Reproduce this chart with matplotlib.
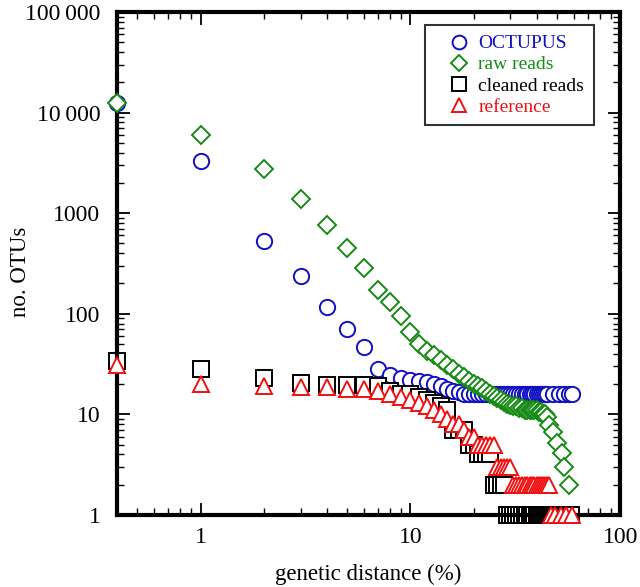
import numpy as np
import matplotlib
matplotlib.use("Agg")
import matplotlib.pyplot as plt
from matplotlib.ticker import LogLocator, FuncFormatter, NullFormatter

plt.rcParams['font.family'] = ['Liberation Serif', 'DejaVu Serif']
plt.rcParams['mathtext.fontset'] = 'stix'

# genetic distance (%) -- the 0 % point is drawn at the left edge (0.4)
x_octupus = [0.4] + list(range(1, 46)) + [48, 51, 54, 57, 59]
y_octupus = [12500, 3300, 530, 235, 117, 71, 47, 28, 24.5, 23, 22, 21.5, 21, 20,
             19, 18, 17, 16.5] + [16] * 33

x_raw = [0.4] + list(range(1, 47)) + [48, 50, 53, 54, 57]
y_raw = [12500, 5980, 2750, 1390, 765, 450, 285, 173, 131, 95, 66, 50, 43, 39, 35,
         31, 28, 25, 23.5, 21.5, 20, 19, 18.3, 17, 16, 15.2, 14.5, 13.9, 13.3, 12.7,
         12.4, 12, 12, 11.5, 11.5, 11, 11, 11, 11, 11, 11, 10.5, 10.5, 10, 10, 9.4,
         7.8, 6.7, 5.2, 4.1, 3.0, 2.0]

x_clean = [0.4] + list(range(1, 59))
y_clean = [34, 28, 23, 20.5, 19.5, 19.5, 19.5, 19, 17, 16, 16, 15, 14, 13, 12, 11,
           7, 7, 7, 5, 5, 4, 4, 4, 4, 2, 2, 2, 2] + [1] * 30

x_ref = [0.4] + list(range(1, 47)) + [47, 49, 52, 55, 59]
y_ref = [31, 20, 19, 18.5, 18.5, 18, 18, 17, 16, 15, 14, 13, 12, 11, 10, 9, 8, 8, 7,
         6, 6, 5, 5, 5, 5, 5, 3, 3, 3, 3, 3] + [2] * 16 + [1] * 5

series = [
    ("OCTUPUS", x_octupus, y_octupus, 'o', '#1010c0', 1),
    ("raw reads", x_raw, y_raw, 'D', '#158a15', 4),
    ("cleaned reads", x_clean, y_clean, 's', 'black', 2),
    ("reference", x_ref, y_ref, '^', '#f01010', 3),
]

fig = plt.figure(figsize=(6.4, 5.87), dpi=100)
ax = fig.add_axes([0.183, 0.1227, 0.786, 0.857])

for name, xs, ys, mk, col, z in series:
    ms = 9 if mk == 'D' else 11
    ax.plot(xs, ys, linestyle='none', marker=mk, markersize=ms,
            markerfacecolor='white', markeredgecolor=col, markeredgewidth=1.4,
            label=name, zorder=z, clip_on=False)

ax.set_xscale('log')
ax.set_yscale('log')
ax.set_xlim(0.4, 100)
ax.set_ylim(1, 100000)

def yfmt(v, pos):
    s = f"{int(round(v))}"
    if v >= 10000:
        s = f"{int(round(v)):,}".replace(',', '\u2009')
    return s

ax.yaxis.set_major_locator(LogLocator(base=10, numticks=10))
ax.yaxis.set_major_formatter(FuncFormatter(yfmt))
ax.yaxis.set_minor_locator(LogLocator(base=10, subs=np.arange(2, 10), numticks=20))
ax.yaxis.set_minor_formatter(NullFormatter())
ax.xaxis.set_major_formatter(FuncFormatter(lambda v, p: f"{int(round(v))}"))
ax.xaxis.set_minor_locator(LogLocator(base=10, subs=np.arange(2, 10), numticks=20))
ax.xaxis.set_minor_formatter(NullFormatter())

for sp in ax.spines.values():
    sp.set_linewidth(3)
ax.tick_params(which='both', direction='in', top=True, right=True, labelsize=17)
ax.tick_params(axis='y', which='both', pad=12)
ax.tick_params(axis='x', which='both', pad=9)
ax.tick_params(which='major', length=9, width=1.3)
ax.tick_params(which='minor', length=5, width=1.0)

ax.set_xlabel('genetic distance (%)', fontsize=16.5, labelpad=11)
ax.set_ylabel('no. OTUs', fontsize=16.5)
ax.yaxis.set_label_coords(-0.172, 0.483)

leg = ax.legend(loc='upper right', bbox_to_anchor=(0.948, 0.974), fontsize=14,
                frameon=True, fancybox=False, handletextpad=-0.25, borderpad=0.5,
                labelspacing=0.18, handlelength=2.5, borderaxespad=0, markerscale=0.9)
leg.get_frame().set_edgecolor('black')
leg.get_frame().set_linewidth(1.5)
for txt, (_, _, _, _, col, _) in zip(leg.get_texts(), series):
    txt.set_color(col)

fig.savefig('out.png', dpi=100)
